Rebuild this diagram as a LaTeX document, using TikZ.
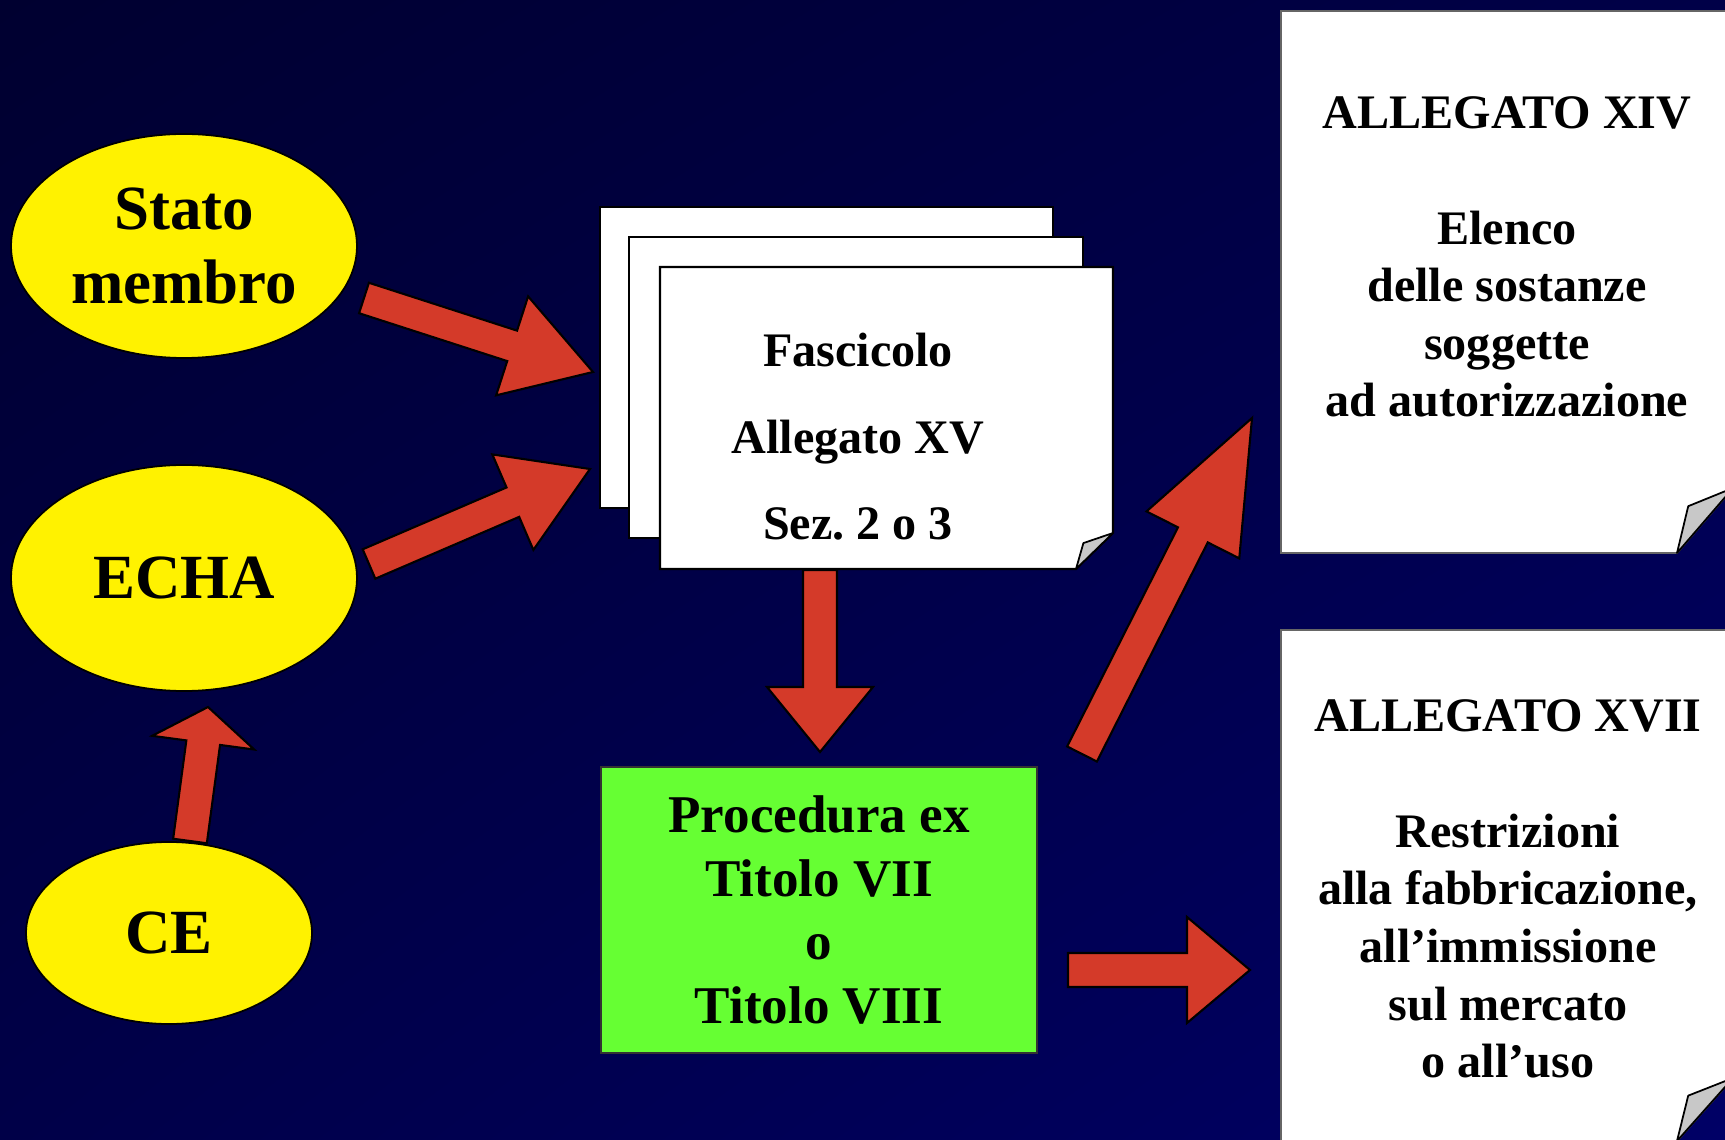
\documentclass[tikz,border=0pt]{standalone}
\usepackage{fontspec}
\setmainfont{Liberation Serif}
\usepackage{tikz}
\usetikzlibrary{shapes}
\usetikzlibrary{shadings}
\usetikzlibrary{calc}
\usetikzlibrary{positioning}
\usepackage{xcolor}
\frenchspacing
\definecolor{bgtop}{HTML}{000030}
\definecolor{bgmid}{HTML}{000048}
\definecolor{bgbot}{HTML}{000066}
\definecolor{myred}{HTML}{D43A29}
\definecolor{mygreen}{HTML}{66FF33}
\definecolor{flapgray}{HTML}{C8C8C8}
\tikzset{x=0.1mm, y=-0.1mm, every text node part/.style={align=center}}
\tikzstyle{agent} = [ellipse, draw=black, fill=yellow, line width=0.5pt, inner sep=0pt, font={\bfseries\fontsize{17.9}{21.3}\selectfont}]
\tikzstyle{procbox} = [rectangle, draw=black!80, fill=mygreen, line width=0.4pt, inner sep=0pt, font={\bfseries\fontsize{15.1}{18.2}\selectfont}]
\tikzstyle{sheettext} = [inner sep=0pt, font={\bfseries\fontsize{13.7}{24.6}\selectfont}]
\tikzstyle{boxtext} = [inner sep=0pt, font={\bfseries\fontsize{13.7}{16.4}\selectfont}]
\tikzstyle{sheetline} = [draw=black, fill=white, line width=0.6pt]
\tikzstyle{boxline} = [draw=black!60, fill=white, line width=0.5pt]
\tikzstyle{flap} = [draw=black, fill=flapgray, line width=0.5pt, line join=round]
\tikzstyle{redarrow} = [draw=black, fill=myred, line width=0.6pt, line join=miter]
\newcommand{\sheet}[4]{\path[sheetline] (#1,#2) rectangle (#3,#4);}
\newcommand{\foldsheet}[7]{%
  \path[#7] (#1,#2) -- (#3,#2) -- (#3,#4-#6) -- (#3-#5,#4) -- (#1,#4) -- cycle;
  \path[flap] (#3-#5,#4) -- (#3-0.8*#5,#4-0.72*#6) -- (#3,#4-#6) -- cycle;}
\newcommand{\bigarrow}[5]{%
  \coordinate (arrowjoin) at ($(#2)!#5!(#1)$);
  \path[redarrow] ($(#1)!#3!90:(#2)$) -- ($(arrowjoin)!#3!90:(#2)$) -- ($(arrowjoin)!#4!90:(#2)$) -- (#2)
    -- ($(arrowjoin)!#4!-90:(#2)$) -- ($(arrowjoin)!#3!-90:(#2)$) -- ($(#1)!#3!-90:(#2)$) -- cycle;}

\begin{document}
\begin{tikzpicture}
  \useasboundingbox (0,0) rectangle (1725,1140);
  \clip (0,0) rectangle (1725,1140);
  \shade[upper left=bgtop, upper right=bgmid, lower left=bgmid, lower right=bgbot] (0,0) rectangle (1725,1140);
  \sheet{600}{207}{1053}{508}
  \sheet{629}{237}{1083}{538}
  \foldsheet{660}{267}{1113}{569}{37}{36}{sheetline}
  \foldsheet{1281}{11}{1733}{553}{56}{65}{boxline}
  \foldsheet{1281}{630}{1733}{1141}{56}{63}{boxline}
  \node[agent, minimum width=34.6mm, minimum height=22.4mm] (stato) at (184,246) {Stato\\membro};
  \node[agent, minimum width=34.6mm, minimum height=22.6mm] (echa) at (184,578) {ECHA};
  \node[agent, minimum width=28.6mm, minimum height=18.2mm] (ce) at (169,933) {CE};
  \node[sheettext] (fascicolo) at (858,437) {Fascicolo\\Allegato XV\\Sez. 2 o 3};
  \node[procbox, minimum width=43.6mm, minimum height=28.6mm] (procedura) at (819,910) {Procedura ex\\Titolo VII\\o\\Titolo VIII};
  \node[boxtext] (allxiv) at (1507,257) {ALLEGATO XIV\\[5.8mm]Elenco\\delle sostanze\\soggette\\ad autorizzazione};
  \node[boxtext] (allxvii) at (1508,889) {ALLEGATO XVII\\[5.8mm]Restrizioni\\alla fabbricazione,\\all’immissione\\sul mercato\\o all’uso};
  \coordinate (statoout) at (364,298);
  \coordinate (fascin1) at (593,372);
  \coordinate (echaout) at (369,564);
  \coordinate (fascin2) at (590,469);
  \coordinate (ceout) at (190,841);
  \coordinate (echain) at (208,707);
  \coordinate (fascout) at (820,570);
  \coordinate (procin) at (820,752);
  \coordinate (procout1) at (1082,754);
  \coordinate (xivin) at (1252,418);
  \coordinate (procout2) at (1068,970);
  \coordinate (xviiin) at (1250,970);
  \bigarrow{statoout}{fascin1}{1.6mm}{5.2mm}{8.5mm}
  \bigarrow{echaout}{fascin2}{1.6mm}{5.2mm}{8.4mm}
  \bigarrow{ceout}{echain}{1.7mm}{5.15mm}{3.6mm}
  \bigarrow{fascout}{procin}{1.7mm}{5.3mm}{6.5mm}
  \bigarrow{procout1}{xivin}{1.67mm}{5.2mm}{13.1mm}
  \bigarrow{procout2}{xviiin}{1.7mm}{5.3mm}{6.3mm}
\end{tikzpicture}
\end{document}
